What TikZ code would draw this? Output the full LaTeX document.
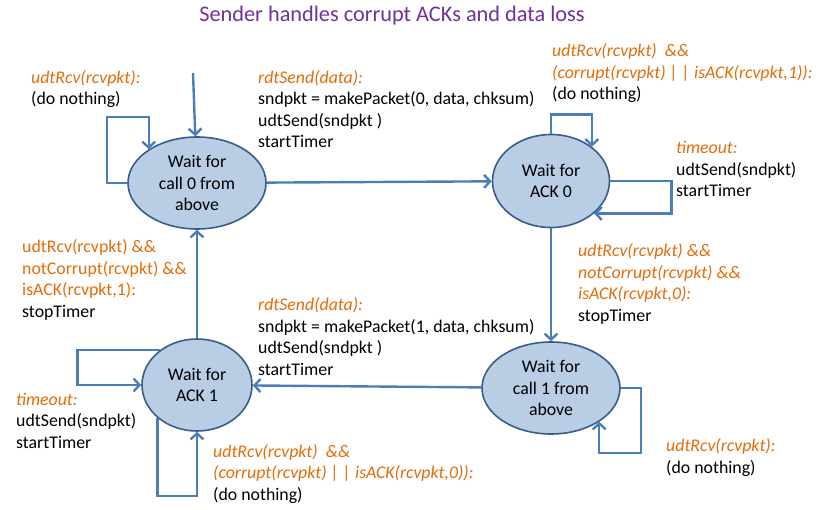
\documentclass[tikz,border=0pt]{standalone}
\usepackage{fontspec}
\setmainfont{Carlito}
\usetikzlibrary{shapes.geometric,arrows.meta}
\definecolor{statefill}{HTML}{B9CDE5}
\definecolor{stateedge}{HTML}{385D8A}
\definecolor{arrowblue}{HTML}{4A7EBB}
\definecolor{guardorange}{HTML}{E46C0A}
\definecolor{titlepurple}{HTML}{7030A0}
\newcommand{\grd}[1]{\textcolor{guardorange}{\textit{#1}}}
\begin{document}
\begin{tikzpicture}[x=1pt,y=-1pt,
                state/.style={ellipse,draw=stateedge,line width=1.6pt,fill=statefill,inner sep=0pt,align=center,font=\fontsize{17.8}{21.5}\selectfont},
                trans/.style={draw=arrowblue,line width=2.4pt,-{Straight Barb[length=6pt,width=13pt]}},
                lbl/.style={anchor=base west,inner sep=0pt,align=left,font=\fontsize{17.8}{21.5}\selectfont}]
                \useasboundingbox ( 0, 0 ) rectangle ( 826, 510 );
% заголовок
                \node [anchor=base,text=titlepurple,font=\fontsize{22.3}{26}\selectfont] (title) at ( 392, 22 ) {Sender handles corrupt ACKs and data loss};
% состояния
                \node [state,minimum width=138pt,minimum height=92pt] (call0) at ( 197, 183 ) {Wait for\\call 0 from\\above};
                \node [state,minimum width=117pt,minimum height=93pt] (ack0) at ( 551, 181 ) {Wait for\\ACK 0};
                \node [state,minimum width=138pt,minimum height=92pt] (call1) at ( 551, 388 ) {Wait for\\call 1 from\\above};
                \node [state,minimum width=110pt,minimum height=92pt] (ack1) at ( 197, 385 ) {Wait for\\ACK 1};
% переходы
                \coordinate (init) at ( 193, 73 );
                \draw [trans] (init) -- (call0);
                \draw [trans] (call0) -- (ack0);
                \draw [trans] (ack0) -- (call1);
                \draw [trans] (call1) -- (ack1);
                \draw [trans] (ack1) -- (call0);
% петли
                \draw [trans] (call0.west) -- ++( -20, 0 ) -- ++( 0, -66 ) -| (call0.145);
                \draw [trans] (ack0.north) -- ++( 0, -19 ) -| (ack0.40);
                \draw [trans] (ack0.east) -- ++( 61, 0 ) |- (ack0.-37);
                \draw [trans] (call1.east) -- ++( 20, 0 ) -- ++( 0, 65 ) -| (call1.-35);
                \draw [trans] (ack1.137) -- ++( -82, 0 ) |- (ack1.west);
                \draw [trans] (ack1.-140) -- ++( 0, 78 ) -| (ack1.south);
% подписи (точка -- строка снизу)
                \node [lbl] (call0loop) at ( 31, 105 ) {\grd{udtRcv(rcvpkt):}\\(do nothing)};
                \node [lbl] (send0) at ( 258, 148 ) {\grd{rdtSend(data):}\\sndpkt = makePacket(0, data, chksum)\\udtSend(sndpkt~)\\startTimer};
                \node [lbl] (ack0loop) at ( 552, 100 ) {\grd{udtRcv(rcvpkt)~ \&\&}\\\grd{(corrupt(rcvpkt) | | isACK(rcvpkt,1)):}\\(do nothing)};
                \node [lbl] (timeout0) at ( 676, 197 ) {\grd{timeout:}\\udtSend(sndpkt)\\startTimer};
                \node [lbl] (gotack0) at ( 578, 321 ) {\grd{udtRcv(rcvpkt) \&\&}\\\grd{notCorrupt(rcvpkt) \&\&}\\\grd{isACK(rcvpkt,0):}\\stopTimer};
                \node [lbl] (gotack1) at ( 22, 317 ) {\textcolor{guardorange}{udtRcv(rcvpkt) \&\&}\\\textcolor{guardorange}{notCorrupt(rcvpkt) \&\&}\\\textcolor{guardorange}{isACK(rcvpkt,1):}\\stopTimer};
                \node [lbl] (send1) at ( 258, 375 ) {\grd{rdtSend(data):}\\sndpkt = makePacket(1, data, chksum)\\udtSend(sndpkt~)\\startTimer};
                \node [lbl] (timeout1) at ( 16, 448 ) {\grd{timeout:}\\udtSend(sndpkt)\\startTimer};
                \node [lbl] (ack1loop) at ( 213, 500 ) {\grd{udtRcv(rcvpkt)~ \&\&}\\\grd{(corrupt(rcvpkt) | | isACK(rcvpkt,0)):}\\(do nothing)};
                \node [lbl] (call1loop) at ( 666, 473 ) {\grd{udtRcv(rcvpkt):}\\(do nothing)};
            \end{tikzpicture}
\end{document}
